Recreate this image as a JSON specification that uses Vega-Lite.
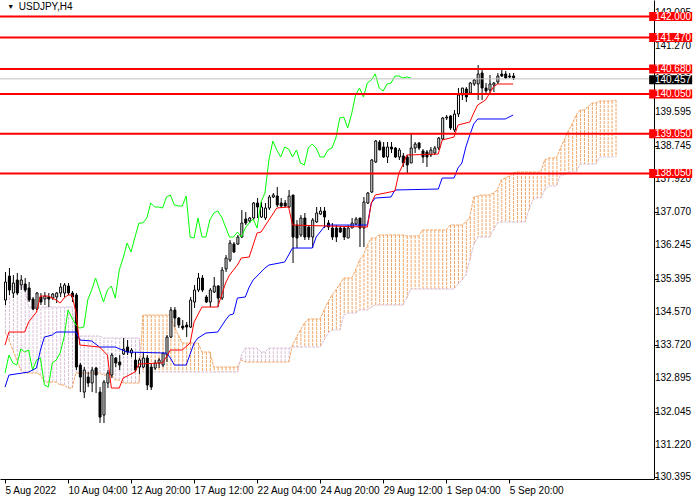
{
  "$schema": "https://vega.github.io/schema/vega-lite/v6.json",
  "width": 654,
  "height": 479,
  "autosize": {"type": "none"},
  "padding": {"left": 0, "top": 0, "right": 46, "bottom": 21},
  "background": "white",
  "config": {"view": {"stroke": null}, "font": "Liberation Sans"},
  "datasets": {
    "candles": [
      {"i":0,"open":134.863,"high":135.568,"low":134.737,"close":135.316},
      {"i":1,"open":135.467,"high":135.669,"low":134.989,"close":135.115},
      {"i":2,"open":135.039,"high":135.492,"low":134.913,"close":135.291},
      {"i":3,"open":135.367,"high":135.543,"low":134.989,"close":135.039},
      {"i":4,"open":135.241,"high":135.492,"low":135.115,"close":135.367},
      {"i":5,"open":135.266,"high":135.417,"low":135.064,"close":135.115},
      {"i":6,"open":135.165,"high":135.316,"low":134.813,"close":134.863},
      {"i":7,"open":134.888,"high":134.939,"low":134.611,"close":134.636},
      {"i":8,"open":134.636,"high":135.064,"low":134.611,"close":135.039},
      {"i":9,"open":134.939,"high":135.039,"low":134.737,"close":134.813},
      {"i":10,"open":134.888,"high":135.064,"low":134.737,"close":134.964},
      {"i":11,"open":134.939,"high":135.039,"low":134.687,"close":134.888},
      {"i":12,"open":134.913,"high":135.039,"low":134.863,"close":135.014},
      {"i":13,"open":134.939,"high":135.064,"low":134.787,"close":135.039},
      {"i":14,"open":135.039,"high":135.291,"low":134.939,"close":135.190},
      {"i":15,"open":135.039,"high":135.291,"low":134.939,"close":135.241},
      {"i":16,"open":135.216,"high":135.291,"low":134.989,"close":135.039},
      {"i":17,"open":135.039,"high":135.090,"low":134.813,"close":134.939},
      {"i":18,"open":134.989,"high":135.039,"low":133.100,"close":133.176},
      {"i":19,"open":133.226,"high":133.277,"low":132.546,"close":132.924},
      {"i":20,"open":132.546,"high":133.176,"low":132.395,"close":133.100},
      {"i":21,"open":132.924,"high":133.050,"low":132.672,"close":132.773},
      {"i":22,"open":132.773,"high":133.176,"low":132.546,"close":133.100},
      {"i":23,"open":133.151,"high":133.176,"low":132.521,"close":132.974},
      {"i":24,"open":132.546,"high":132.672,"low":131.766,"close":131.917},
      {"i":25,"open":131.967,"high":132.849,"low":131.766,"close":132.798},
      {"i":26,"open":132.773,"high":133.100,"low":132.647,"close":133.025},
      {"i":27,"open":132.974,"high":133.528,"low":132.899,"close":133.478},
      {"i":28,"open":133.403,"high":133.428,"low":133.176,"close":133.277},
      {"i":29,"open":133.302,"high":133.478,"low":133.100,"close":133.226},
      {"i":30,"open":133.503,"high":133.906,"low":133.478,"close":133.629},
      {"i":31,"open":133.680,"high":133.856,"low":133.478,"close":133.554},
      {"i":32,"open":133.528,"high":133.654,"low":133.428,"close":133.604},
      {"i":33,"open":133.352,"high":133.554,"low":133.050,"close":133.100},
      {"i":34,"open":133.176,"high":133.403,"low":133.000,"close":133.352},
      {"i":35,"open":133.176,"high":133.528,"low":133.151,"close":133.403},
      {"i":36,"open":133.403,"high":133.478,"low":132.597,"close":132.723},
      {"i":37,"open":133.176,"high":133.277,"low":132.597,"close":132.672},
      {"i":38,"open":133.151,"high":133.352,"low":133.100,"close":133.277},
      {"i":39,"open":133.277,"high":133.403,"low":133.151,"close":133.352},
      {"i":40,"open":133.226,"high":133.528,"low":133.176,"close":133.528},
      {"i":41,"open":133.478,"high":133.982,"low":133.302,"close":133.931},
      {"i":42,"open":133.931,"high":134.687,"low":133.906,"close":134.611},
      {"i":43,"open":134.611,"high":134.687,"low":134.183,"close":134.410},
      {"i":44,"open":134.410,"high":134.435,"low":134.158,"close":134.233},
      {"i":45,"open":134.208,"high":134.359,"low":134.108,"close":134.158},
      {"i":46,"open":134.233,"high":134.309,"low":133.931,"close":134.183},
      {"i":47,"open":134.183,"high":134.939,"low":134.158,"close":134.863},
      {"i":48,"open":134.813,"high":135.241,"low":134.662,"close":135.115},
      {"i":49,"open":135.115,"high":135.543,"low":135.064,"close":135.417},
      {"i":50,"open":135.417,"high":135.492,"low":135.064,"close":135.115},
      {"i":51,"open":134.939,"high":134.989,"low":134.787,"close":134.813},
      {"i":52,"open":134.813,"high":135.165,"low":134.687,"close":135.115},
      {"i":53,"open":135.064,"high":135.442,"low":135.039,"close":135.216},
      {"i":54,"open":135.216,"high":135.241,"low":134.687,"close":134.913},
      {"i":55,"open":134.913,"high":135.694,"low":134.863,"close":135.618},
      {"i":56,"open":135.644,"high":135.996,"low":135.568,"close":135.921},
      {"i":57,"open":135.870,"high":136.374,"low":135.820,"close":136.298},
      {"i":58,"open":136.273,"high":136.323,"low":136.046,"close":136.072},
      {"i":59,"open":136.273,"high":136.500,"low":136.248,"close":136.449},
      {"i":60,"open":136.449,"high":137.129,"low":136.424,"close":136.802},
      {"i":61,"open":136.903,"high":137.079,"low":136.751,"close":136.802},
      {"i":62,"open":136.852,"high":136.953,"low":136.802,"close":136.928},
      {"i":63,"open":136.928,"high":137.331,"low":136.877,"close":137.305},
      {"i":64,"open":137.305,"high":137.431,"low":136.928,"close":137.205},
      {"i":65,"open":136.953,"high":137.331,"low":136.928,"close":137.205},
      {"i":66,"open":136.928,"high":137.305,"low":136.877,"close":137.180},
      {"i":67,"open":137.180,"high":137.507,"low":137.129,"close":137.457},
      {"i":68,"open":137.457,"high":137.557,"low":137.431,"close":137.507},
      {"i":69,"open":137.482,"high":137.708,"low":137.205,"close":137.255},
      {"i":70,"open":137.305,"high":137.431,"low":137.180,"close":137.230},
      {"i":71,"open":137.305,"high":137.381,"low":137.205,"close":137.230},
      {"i":72,"open":137.205,"high":137.633,"low":137.180,"close":137.482},
      {"i":73,"open":137.507,"high":137.507,"low":135.795,"close":136.449},
      {"i":74,"open":136.751,"high":136.877,"low":136.172,"close":136.424},
      {"i":75,"open":136.500,"high":137.003,"low":136.449,"close":136.928},
      {"i":76,"open":136.928,"high":137.054,"low":136.374,"close":136.449},
      {"i":77,"open":136.701,"high":136.751,"low":136.374,"close":136.449},
      {"i":78,"open":136.449,"high":136.928,"low":136.172,"close":136.877},
      {"i":79,"open":136.827,"high":137.205,"low":136.802,"close":137.054},
      {"i":80,"open":137.028,"high":137.205,"low":137.003,"close":137.104},
      {"i":81,"open":137.104,"high":137.205,"low":136.676,"close":136.953},
      {"i":82,"open":136.802,"high":136.877,"low":136.626,"close":136.701},
      {"i":83,"open":136.676,"high":136.802,"low":136.374,"close":136.449},
      {"i":84,"open":136.676,"high":136.751,"low":136.323,"close":136.449},
      {"i":85,"open":136.676,"high":136.726,"low":136.550,"close":136.575},
      {"i":86,"open":136.676,"high":136.701,"low":136.374,"close":136.449},
      {"i":87,"open":136.424,"high":136.751,"low":136.424,"close":136.676},
      {"i":88,"open":136.676,"high":136.928,"low":136.676,"close":136.802},
      {"i":89,"open":136.777,"high":136.953,"low":136.751,"close":136.903},
      {"i":90,"open":136.928,"high":136.928,"low":136.198,"close":136.676},
      {"i":91,"open":136.676,"high":137.457,"low":136.198,"close":137.331},
      {"i":92,"open":137.305,"high":137.582,"low":137.280,"close":137.557},
      {"i":93,"open":137.582,"high":138.413,"low":137.557,"close":138.388},
      {"i":94,"open":138.338,"high":138.892,"low":138.313,"close":138.867},
      {"i":95,"open":138.841,"high":138.892,"low":138.640,"close":138.640},
      {"i":96,"open":138.716,"high":138.841,"low":138.439,"close":138.464},
      {"i":97,"open":138.464,"high":138.841,"low":138.313,"close":138.716},
      {"i":98,"open":138.716,"high":138.841,"low":138.564,"close":138.665},
      {"i":99,"open":138.690,"high":138.716,"low":138.439,"close":138.464},
      {"i":100,"open":138.464,"high":138.690,"low":138.388,"close":138.640},
      {"i":101,"open":138.489,"high":138.564,"low":138.212,"close":138.313},
      {"i":102,"open":138.464,"high":138.514,"low":138.061,"close":138.262},
      {"i":103,"open":138.313,"high":139.043,"low":138.313,"close":138.690},
      {"i":104,"open":138.690,"high":138.841,"low":138.564,"close":138.791},
      {"i":105,"open":138.816,"high":138.841,"low":138.640,"close":138.690},
      {"i":106,"open":138.615,"high":138.665,"low":138.313,"close":138.464},
      {"i":107,"open":138.590,"high":138.640,"low":138.212,"close":138.464},
      {"i":108,"open":138.514,"high":138.716,"low":138.464,"close":138.640},
      {"i":109,"open":138.564,"high":138.741,"low":138.514,"close":138.690},
      {"i":110,"open":138.690,"high":138.967,"low":138.640,"close":138.942},
      {"i":111,"open":138.917,"high":139.471,"low":138.892,"close":139.446},
      {"i":112,"open":139.446,"high":139.521,"low":139.395,"close":139.471},
      {"i":113,"open":139.496,"high":139.521,"low":139.144,"close":139.194},
      {"i":114,"open":139.144,"high":139.647,"low":139.093,"close":139.546},
      {"i":115,"open":139.546,"high":140.201,"low":139.471,"close":140.025},
      {"i":116,"open":140.025,"high":140.201,"low":139.899,"close":140.201},
      {"i":117,"open":140.176,"high":140.226,"low":139.849,"close":139.975},
      {"i":118,"open":140.075,"high":140.352,"low":140.025,"close":140.327},
      {"i":119,"open":140.302,"high":140.428,"low":140.252,"close":140.403},
      {"i":120,"open":140.302,"high":140.780,"low":139.899,"close":140.554},
      {"i":121,"open":140.579,"high":140.654,"low":139.899,"close":140.201},
      {"i":122,"open":140.201,"high":140.327,"low":140.075,"close":140.126},
      {"i":123,"open":140.151,"high":140.528,"low":140.025,"close":140.302},
      {"i":124,"open":140.277,"high":140.352,"low":140.100,"close":140.327},
      {"i":125,"open":140.352,"high":140.579,"low":140.302,"close":140.503},
      {"i":126,"open":140.554,"high":140.654,"low":140.478,"close":140.503},
      {"i":127,"open":140.554,"high":140.629,"low":140.428,"close":140.453},
      {"i":128,"open":140.503,"high":140.579,"low":140.453,"close":140.478},
      {"i":129,"open":140.503,"high":140.579,"low":140.403,"close":140.457}
    ],
    "tenkan": [
      {"i":0,"v":133.730},{"i":1,"v":134.057},{"i":5,"v":134.057},{"i":6,"v":134.309},
      {"i":8,"v":134.561},{"i":9,"v":134.964},{"i":11,"v":134.964},{"i":13,"v":134.863},
      {"i":14,"v":134.787},{"i":15,"v":134.913},{"i":16,"v":134.989},{"i":17,"v":134.989},
      {"i":18,"v":134.561},{"i":19,"v":133.730},{"i":24,"v":133.680},{"i":26,"v":133.478},
      {"i":27,"v":132.647},{"i":29,"v":132.647},{"i":30,"v":132.899},{"i":33,"v":133.050},
      {"i":34,"v":133.251},{"i":39,"v":133.277},{"i":40,"v":133.277},{"i":42,"v":133.604},
      {"i":45,"v":133.604},{"i":47,"v":133.780},{"i":48,"v":134.309},{"i":50,"v":134.687},
      {"i":54,"v":134.687},{"i":56,"v":135.291},{"i":57,"v":135.492},{"i":59,"v":135.744},
      {"i":60,"v":135.921},{"i":62,"v":135.946},{"i":64,"v":136.550},{"i":65,"v":136.575},
      {"i":67,"v":136.877},{"i":69,"v":137.180},{"i":72,"v":137.205},{"i":73,"v":136.751},
      {"i":82,"v":136.726},{"i":92,"v":136.701},{"i":93,"v":137.305},{"i":94,"v":137.507},
      {"i":99,"v":137.608},{"i":100,"v":138.061},{"i":101,"v":138.262},{"i":102,"v":138.514},
      {"i":110,"v":138.539},{"i":111,"v":138.892},{"i":114,"v":138.967},{"i":115,"v":139.269},
      {"i":118,"v":139.345},{"i":119,"v":139.572},{"i":120,"v":139.773},{"i":122,"v":139.899},
      {"i":124,"v":140.226},{"i":125,"v":140.302},{"i":129,"v":140.302}
    ],
    "kijun": [
      {"i":0,"v":132.672},{"i":1,"v":132.974},{"i":6,"v":133.050},{"i":8,"v":133.151},
      {"i":9,"v":133.604},{"i":10,"v":133.931},{"i":12,"v":133.982},{"i":13,"v":134.057},
      {"i":18,"v":134.057},{"i":19,"v":133.856},{"i":22,"v":133.831},{"i":24,"v":133.680},
      {"i":28,"v":133.680},{"i":31,"v":133.554},{"i":41,"v":133.528},{"i":42,"v":133.403},
      {"i":43,"v":133.226},{"i":46,"v":133.226},{"i":48,"v":133.780},{"i":49,"v":133.906},
      {"i":51,"v":134.032},{"i":54,"v":134.057},{"i":56,"v":134.359},{"i":57,"v":134.485},
      {"i":58,"v":134.510},{"i":59,"v":134.913},{"i":61,"v":134.939},{"i":62,"v":135.190},
      {"i":63,"v":135.367},{"i":66,"v":135.669},{"i":67,"v":135.744},{"i":71,"v":135.820},
      {"i":72,"v":135.996},{"i":73,"v":136.172},{"i":78,"v":136.172},{"i":79,"v":136.449},
      {"i":81,"v":136.701},{"i":82,"v":136.751},{"i":92,"v":136.751},{"i":93,"v":137.305},
      {"i":94,"v":137.431},{"i":98,"v":137.457},{"i":99,"v":137.633},{"i":110,"v":137.658},
      {"i":111,"v":137.935},{"i":114,"v":137.935},{"i":115,"v":138.187},{"i":116,"v":138.313},
      {"i":117,"v":138.716},{"i":118,"v":139.018},{"i":119,"v":139.295},{"i":120,"v":139.421},
      {"i":127,"v":139.421},{"i":129,"v":139.521}
    ],
    "chikou": [
      {"i":0,"v":133.025},{"i":1,"v":133.478},{"i":2,"v":133.277},{"i":3,"v":133.226},
      {"i":4,"v":133.629},{"i":5,"v":133.554},{"i":6,"v":133.604},{"i":7,"v":133.100},
      {"i":8,"v":133.352},{"i":9,"v":133.403},{"i":10,"v":132.723},{"i":11,"v":132.672},
      {"i":12,"v":133.277},{"i":13,"v":133.352},{"i":14,"v":133.528},{"i":15,"v":133.931},
      {"i":16,"v":134.611},{"i":17,"v":134.410},{"i":18,"v":134.233},{"i":19,"v":134.158},
      {"i":20,"v":134.183},{"i":21,"v":134.863},{"i":22,"v":135.115},{"i":23,"v":135.417},
      {"i":24,"v":135.115},{"i":25,"v":134.813},{"i":26,"v":135.115},{"i":27,"v":135.216},
      {"i":28,"v":134.913},{"i":29,"v":135.618},{"i":30,"v":135.921},{"i":31,"v":136.298},
      {"i":32,"v":136.072},{"i":33,"v":136.449},{"i":34,"v":136.802},{"i":35,"v":136.802},
      {"i":36,"v":136.928},{"i":37,"v":137.305},{"i":38,"v":137.205},{"i":39,"v":137.205},
      {"i":40,"v":137.180},{"i":41,"v":137.457},{"i":42,"v":137.507},{"i":43,"v":137.255},
      {"i":44,"v":137.230},{"i":45,"v":137.230},{"i":46,"v":137.482},{"i":47,"v":136.449},
      {"i":48,"v":136.424},{"i":49,"v":136.928},{"i":50,"v":136.449},{"i":51,"v":136.449},
      {"i":52,"v":136.877},{"i":53,"v":137.054},{"i":54,"v":137.104},{"i":55,"v":136.953},
      {"i":56,"v":136.701},{"i":57,"v":136.449},{"i":58,"v":136.449},{"i":59,"v":136.575},
      {"i":60,"v":136.449},{"i":61,"v":136.676},{"i":62,"v":136.802},{"i":63,"v":136.903},
      {"i":64,"v":136.676},{"i":65,"v":137.331},{"i":66,"v":137.557},{"i":67,"v":138.388},
      {"i":68,"v":138.867},{"i":69,"v":138.640},{"i":70,"v":138.464},{"i":71,"v":138.716},
      {"i":72,"v":138.665},{"i":73,"v":138.464},{"i":74,"v":138.640},{"i":75,"v":138.313},
      {"i":76,"v":138.262},{"i":77,"v":138.690},{"i":78,"v":138.791},{"i":79,"v":138.690},
      {"i":80,"v":138.464},{"i":81,"v":138.464},{"i":82,"v":138.640},{"i":83,"v":138.690},
      {"i":84,"v":138.942},{"i":85,"v":139.446},{"i":86,"v":139.471},{"i":87,"v":139.194},
      {"i":88,"v":139.546},{"i":89,"v":140.025},{"i":90,"v":140.201},{"i":91,"v":139.975},
      {"i":92,"v":140.327},{"i":93,"v":140.403},{"i":94,"v":140.554},{"i":95,"v":140.201},
      {"i":96,"v":140.126},{"i":97,"v":140.302},{"i":98,"v":140.327},{"i":99,"v":140.503},
      {"i":100,"v":140.503},{"i":101,"v":140.453},{"i":102,"v":140.478},{"i":103,"v":140.457}
    ],
    "cloud": [
      {"i":0,"a":134.057,"b":135.492},{"i":1,"a":133.856,"b":135.241},{"i":2,"a":133.604,"b":135.190},
      {"i":3,"a":133.352,"b":135.190},{"i":4,"a":133.100,"b":135.190},{"i":5,"a":133.025,"b":135.190},
      {"i":6,"a":133.025,"b":134.687},{"i":7,"a":133.025,"b":134.687},{"i":8,"a":133.025,"b":134.687},
      {"i":9,"a":132.974,"b":134.687},{"i":10,"a":132.798,"b":134.687},{"i":11,"a":132.798,"b":134.687},
      {"i":12,"a":132.798,"b":134.687},{"i":13,"a":132.798,"b":134.687},{"i":14,"a":132.723,"b":134.687},
      {"i":15,"a":132.723,"b":134.687},{"i":16,"a":132.647,"b":134.687},{"i":17,"a":132.647,"b":134.687},
      {"i":18,"a":133.025,"b":133.957},{"i":19,"a":133.025,"b":133.957},{"i":20,"a":133.025,"b":133.957},
      {"i":21,"a":133.025,"b":133.957},{"i":22,"a":133.025,"b":133.957},{"i":23,"a":133.025,"b":133.957},
      {"i":24,"a":133.025,"b":133.957},{"i":25,"a":132.974,"b":133.906},{"i":26,"a":132.974,"b":133.906},
      {"i":27,"a":132.974,"b":133.906},{"i":28,"a":132.849,"b":133.906},{"i":29,"a":132.849,"b":133.906},
      {"i":30,"a":132.773,"b":133.906},{"i":31,"a":132.773,"b":133.906},{"i":32,"a":132.773,"b":133.906},
      {"i":33,"a":132.773,"b":133.906},{"i":34,"a":132.773,"b":133.906},{"i":35,"a":134.485,"b":133.050},
      {"i":36,"a":134.485,"b":133.050},{"i":37,"a":134.485,"b":133.050},{"i":38,"a":134.485,"b":133.050},
      {"i":39,"a":134.485,"b":133.050},{"i":40,"a":134.485,"b":133.050},{"i":41,"a":134.485,"b":133.050},
      {"i":42,"a":134.485,"b":133.050},{"i":43,"a":134.183,"b":133.050},{"i":44,"a":133.982,"b":133.050},
      {"i":45,"a":133.780,"b":133.050},{"i":46,"a":133.780,"b":133.050},{"i":47,"a":133.780,"b":133.050},
      {"i":48,"a":133.780,"b":133.050},{"i":49,"a":133.780,"b":133.050},{"i":50,"a":133.554,"b":133.050},
      {"i":51,"a":133.554,"b":133.050},{"i":52,"a":133.554,"b":133.050},{"i":53,"a":133.176,"b":133.050},
      {"i":54,"a":133.176,"b":133.050},{"i":55,"a":133.176,"b":133.050},{"i":56,"a":133.176,"b":133.050},
      {"i":57,"a":133.176,"b":133.050},{"i":58,"a":133.176,"b":133.050},{"i":59,"a":133.176,"b":133.050},
      {"i":60,"a":133.352,"b":133.478},{"i":61,"a":133.302,"b":133.654},{"i":62,"a":133.302,"b":133.654},
      {"i":63,"a":133.302,"b":133.654},{"i":64,"a":133.302,"b":133.654},{"i":65,"a":133.302,"b":133.554},
      {"i":66,"a":133.302,"b":133.554},{"i":67,"a":133.302,"b":133.654},{"i":68,"a":133.302,"b":133.654},
      {"i":69,"a":133.302,"b":133.654},{"i":70,"a":133.302,"b":133.654},{"i":71,"a":133.302,"b":133.654},
      {"i":72,"a":133.302,"b":133.654},{"i":73,"a":133.730,"b":133.680},{"i":74,"a":133.931,"b":133.680},
      {"i":75,"a":134.108,"b":133.680},{"i":76,"a":134.284,"b":133.680},{"i":77,"a":134.385,"b":133.680},
      {"i":78,"a":134.385,"b":133.680},{"i":79,"a":134.385,"b":133.680},{"i":80,"a":134.385,"b":133.680},
      {"i":81,"a":134.611,"b":133.856},{"i":82,"a":134.813,"b":134.032},{"i":83,"a":134.989,"b":134.108},
      {"i":84,"a":135.115,"b":134.108},{"i":85,"a":135.266,"b":134.108},{"i":86,"a":135.417,"b":134.485},
      {"i":87,"a":135.417,"b":134.536},{"i":88,"a":135.417,"b":134.536},{"i":89,"a":135.618,"b":134.536},
      {"i":90,"a":135.870,"b":134.611},{"i":91,"a":135.996,"b":134.611},{"i":92,"a":136.248,"b":134.611},
      {"i":93,"a":136.424,"b":134.687},{"i":94,"a":136.424,"b":134.737},{"i":95,"a":136.500,"b":134.737},
      {"i":96,"a":136.500,"b":134.737},{"i":97,"a":136.500,"b":134.737},{"i":98,"a":136.500,"b":134.737},
      {"i":99,"a":136.500,"b":134.737},{"i":100,"a":136.500,"b":134.737},{"i":101,"a":136.500,"b":134.737},
      {"i":102,"a":136.475,"b":134.913},{"i":103,"a":136.475,"b":135.140},{"i":104,"a":136.475,"b":135.140},
      {"i":105,"a":136.475,"b":135.140},{"i":106,"a":136.626,"b":135.140},{"i":107,"a":136.626,"b":135.140},
      {"i":108,"a":136.626,"b":135.140},{"i":109,"a":136.626,"b":135.140},{"i":110,"a":136.626,"b":135.140},
      {"i":111,"a":136.626,"b":135.140},{"i":112,"a":136.626,"b":135.140},{"i":113,"a":136.751,"b":135.140},
      {"i":114,"a":136.751,"b":135.140},{"i":115,"a":136.751,"b":135.266},{"i":116,"a":136.751,"b":135.367},
      {"i":117,"a":136.827,"b":135.492},{"i":118,"a":136.953,"b":135.870},{"i":119,"a":137.457,"b":136.248},
      {"i":120,"a":137.482,"b":136.449},{"i":121,"a":137.507,"b":136.449},{"i":122,"a":137.507,"b":136.449},
      {"i":123,"a":137.507,"b":136.449},{"i":124,"a":137.557,"b":136.626},{"i":125,"a":137.633,"b":136.802},
      {"i":126,"a":137.885,"b":136.827},{"i":127,"a":137.935,"b":136.827},{"i":128,"a":137.985,"b":136.827},
      {"i":129,"a":138.061,"b":136.827},{"i":130,"a":138.086,"b":136.827},{"i":131,"a":138.086,"b":136.827},
      {"i":132,"a":138.086,"b":136.827},{"i":133,"a":138.086,"b":137.129},{"i":134,"a":138.086,"b":137.381},
      {"i":135,"a":138.086,"b":137.431},{"i":136,"a":138.086,"b":137.431},{"i":137,"a":138.388,"b":137.633},
      {"i":138,"a":138.439,"b":137.734},{"i":139,"a":138.439,"b":137.734},{"i":140,"a":138.439,"b":137.734},
      {"i":141,"a":138.690,"b":138.011},{"i":142,"a":138.892,"b":138.011},{"i":143,"a":139.118,"b":138.086},
      {"i":144,"a":139.295,"b":138.086},{"i":145,"a":139.521,"b":138.086},{"i":146,"a":139.647,"b":138.287},
      {"i":147,"a":139.647,"b":138.287},{"i":148,"a":139.723,"b":138.287},{"i":149,"a":139.823,"b":138.287},
      {"i":150,"a":139.823,"b":138.287},{"i":151,"a":139.874,"b":138.464},{"i":152,"a":139.874,"b":138.464},
      {"i":153,"a":139.874,"b":138.464},{"i":154,"a":139.874,"b":138.464},{"i":155,"a":139.899,"b":138.464}
    ],
    "yticks": [
      {"v":130.395},{"v":131.220},{"v":132.045},{"v":132.895},{"v":133.720},
      {"v":134.570},{"v":135.395},{"v":136.245},{"v":137.070},{"v":137.920},
      {"v":138.745},{"v":139.595},{"v":140.420},{"v":141.270},{"v":142.095}
    ],
    "levels": [
      {"price":142.000},{"price":141.470},{"price":140.680},
      {"price":140.050},{"price":139.050},{"price":138.050}
    ],
    "bid": [{"price":140.457}],
    "caption": [{"symbol":"USDJPY,H4","arrow":"▼"}]
  },
  "layer": [
    {
      "data": {"name": "cloud"},
      "mark": {"type": "rule", "strokeDash": [3, 1], "strokeWidth": 1, "xOffset": 0.5},
      "encoding": {
        "x": {
          "field": "i", "type": "quantitative", "title": null,
          "scale": {"domain": [0, 163.5], "nice": false, "zero": false},
          "axis": {
            "orient": "bottom", "title": null, "grid": false,
            "values": [0, 16, 32, 48, 64, 80, 96, 112, 128],
            "labelExpr": "['5 Aug 2022','10 Aug 04:00','12 Aug 20:00','17 Aug 12:00','22 Aug 04:00','24 Aug 20:00','29 Aug 12:00','1 Sep 04:00','5 Sep 20:00'][datum.value / 16]",
            "labelAlign": "left", "labelDx": 1, "labelPadding": 2, "labelBaseline": "top",
            "labelFontSize": 10, "labelColor": "black", "labelOverlap": false, "labelFlush": false,
            "tickSize": 4, "tickColor": "black", "domainColor": "black", "zindex": 0
          }
        },
        "y": {
          "field": "a", "type": "quantitative", "title": null,
          "scale": {"domain": [130.357, 142.417], "nice": false, "zero": false},
          "axis": {
            "orient": "right", "title": null, "grid": false, "labels": false,
            "values": [130.395, 131.22, 132.045, 132.895, 133.72, 134.57, 135.395, 136.245, 137.07, 137.92, 138.745, 139.595, 140.42, 141.27, 142.095],
            "tickSize": 4, "tickColor": "black", "domainColor": "black", "zindex": 0
          }
        },
        "y2": {"field": "b"},
        "color": {"condition": {"test": "datum.a >= datum.b", "value": "#F4A460"}, "value": "#D8BFD8"}
      }
    },
    {
      "data": {"name": "cloud"},
      "mark": {"type": "line", "strokeDash": [3, 1], "strokeWidth": 1, "color": "#F4A460"},
      "encoding": {
        "x": {"field": "i", "type": "quantitative", "title": null, "scale": {"domain": [0, 163.5], "nice": false, "zero": false}},
        "y": {"field": "a", "type": "quantitative", "title": null, "scale": {"domain": [130.357, 142.417], "nice": false, "zero": false}}
      }
    },
    {
      "data": {"name": "cloud"},
      "mark": {"type": "line", "strokeDash": [3, 1], "strokeWidth": 1, "color": "#D8BFD8"},
      "encoding": {
        "x": {"field": "i", "type": "quantitative", "title": null, "scale": {"domain": [0, 163.5], "nice": false, "zero": false}},
        "y": {"field": "b", "type": "quantitative", "title": null, "scale": {"domain": [130.357, 142.417], "nice": false, "zero": false}}
      }
    },
    {
      "data": {"name": "candles"},
      "mark": {"type": "rule", "color": "black", "strokeWidth": 1, "xOffset": 0.5},
      "encoding": {
        "x": {"field": "i", "type": "quantitative", "title": null, "scale": {"domain": [0, 163.5], "nice": false, "zero": false}},
        "y": {"field": "low", "type": "quantitative", "title": null, "scale": {"domain": [130.357, 142.417], "nice": false, "zero": false}},
        "y2": {"field": "high"}
      }
    },
    {
      "data": {"name": "candles"},
      "mark": {"type": "bar", "orient": "vertical", "width": 2, "stroke": "black", "strokeWidth": 1, "xOffset": 0.5},
      "encoding": {
        "x": {"field": "i", "type": "quantitative", "title": null, "scale": {"domain": [0, 163.5], "nice": false, "zero": false}},
        "y": {"field": "open", "type": "quantitative", "title": null, "scale": {"domain": [130.357, 142.417], "nice": false, "zero": false}},
        "y2": {"field": "close"},
        "fill": {"condition": {"test": "datum.close > datum.open", "value": "white"}, "value": "black"}
      }
    },
    {
      "data": {"name": "chikou"},
      "mark": {"type": "line", "color": "#00FF00", "strokeWidth": 1},
      "encoding": {
        "x": {"field": "i", "type": "quantitative", "title": null, "scale": {"domain": [0, 163.5], "nice": false, "zero": false}},
        "y": {"field": "v", "type": "quantitative", "title": null, "scale": {"domain": [130.357, 142.417], "nice": false, "zero": false}}
      }
    },
    {
      "data": {"name": "kijun"},
      "mark": {"type": "line", "color": "#0000FF", "strokeWidth": 1},
      "encoding": {
        "x": {"field": "i", "type": "quantitative", "title": null, "scale": {"domain": [0, 163.5], "nice": false, "zero": false}},
        "y": {"field": "v", "type": "quantitative", "title": null, "scale": {"domain": [130.357, 142.417], "nice": false, "zero": false}}
      }
    },
    {
      "data": {"name": "tenkan"},
      "mark": {"type": "line", "color": "#FF0000", "strokeWidth": 1},
      "encoding": {
        "x": {"field": "i", "type": "quantitative", "title": null, "scale": {"domain": [0, 163.5], "nice": false, "zero": false}},
        "y": {"field": "v", "type": "quantitative", "title": null, "scale": {"domain": [130.357, 142.417], "nice": false, "zero": false}}
      }
    },
    {
      "data": {"name": "bid"},
      "mark": {"type": "rule", "color": "#C0C0C0", "strokeWidth": 1, "yOffset": 1},
      "encoding": {
        "y": {"field": "price", "type": "quantitative", "title": null, "scale": {"domain": [130.357, 142.417], "nice": false, "zero": false}}
      }
    },
    {
      "data": {"name": "levels"},
      "mark": {"type": "rule", "color": "#FF0000", "strokeWidth": 2},
      "encoding": {
        "y": {"field": "price", "type": "quantitative", "title": null, "scale": {"domain": [130.357, 142.417], "nice": false, "zero": false}}
      }
    },
    {
      "data": {"name": "yticks"},
      "mark": {"type": "text", "color": "black", "fontSize": 10, "align": "left", "baseline": "middle"},
      "encoding": {
        "x": {"datum": 165, "type": "quantitative", "title": null, "scale": {"domain": [0, 163.5], "nice": false, "zero": false}},
        "y": {"field": "v", "type": "quantitative", "title": null, "scale": {"domain": [130.357, 142.417], "nice": false, "zero": false}},
        "text": {"field": "v", "format": ".3f"}
      }
    },
    {
      "data": {"name": "levels"},
      "mark": {"type": "tick", "orient": "horizontal", "size": 43, "thickness": 9, "color": "#FF0000", "opacity": 1},
      "encoding": {
        "x": {"datum": 169, "type": "quantitative", "title": null, "scale": {"domain": [0, 163.5], "nice": false, "zero": false}},
        "y": {"field": "price", "type": "quantitative", "title": null, "scale": {"domain": [130.357, 142.417], "nice": false, "zero": false}}
      }
    },
    {
      "data": {"name": "bid"},
      "mark": {"type": "tick", "orient": "horizontal", "size": 43, "thickness": 9, "color": "black", "opacity": 1, "yOffset": 2},
      "encoding": {
        "x": {"datum": 169, "type": "quantitative", "title": null, "scale": {"domain": [0, 163.5], "nice": false, "zero": false}},
        "y": {"field": "price", "type": "quantitative", "title": null, "scale": {"domain": [130.357, 142.417], "nice": false, "zero": false}}
      }
    },
    {
      "data": {"name": "levels"},
      "mark": {"type": "text", "color": "white", "fontSize": 10, "align": "left", "baseline": "middle"},
      "encoding": {
        "x": {"datum": 165, "type": "quantitative", "title": null, "scale": {"domain": [0, 163.5], "nice": false, "zero": false}},
        "y": {"field": "price", "type": "quantitative", "title": null, "scale": {"domain": [130.357, 142.417], "nice": false, "zero": false}},
        "text": {"field": "price", "format": ".3f"}
      }
    },
    {
      "data": {"name": "bid"},
      "mark": {"type": "text", "color": "white", "fontSize": 10, "align": "left", "baseline": "middle", "yOffset": 2},
      "encoding": {
        "x": {"datum": 165, "type": "quantitative", "title": null, "scale": {"domain": [0, 163.5], "nice": false, "zero": false}},
        "y": {"field": "price", "type": "quantitative", "title": null, "scale": {"domain": [130.357, 142.417], "nice": false, "zero": false}},
        "text": {"field": "price", "format": ".3f"}
      }
    },
    {
      "data": {"name": "caption"},
      "mark": {"type": "text", "color": "black", "fontSize": 7, "align": "left", "baseline": "middle"},
      "encoding": {
        "x": {"datum": 0.6, "type": "quantitative", "title": null, "scale": {"domain": [0, 163.5], "nice": false, "zero": false}},
        "y": {"datum": 142.245, "type": "quantitative", "title": null, "scale": {"domain": [130.357, 142.417], "nice": false, "zero": false}},
        "text": {"field": "arrow"}
      }
    },
    {
      "data": {"name": "caption"},
      "mark": {"type": "text", "color": "black", "fontSize": 10, "align": "left", "baseline": "middle"},
      "encoding": {
        "x": {"datum": 3.5, "type": "quantitative", "title": null, "scale": {"domain": [0, 163.5], "nice": false, "zero": false}},
        "y": {"datum": 142.24, "type": "quantitative", "title": null, "scale": {"domain": [130.357, 142.417], "nice": false, "zero": false}},
        "text": {"field": "symbol"}
      }
    }
  ]
}
